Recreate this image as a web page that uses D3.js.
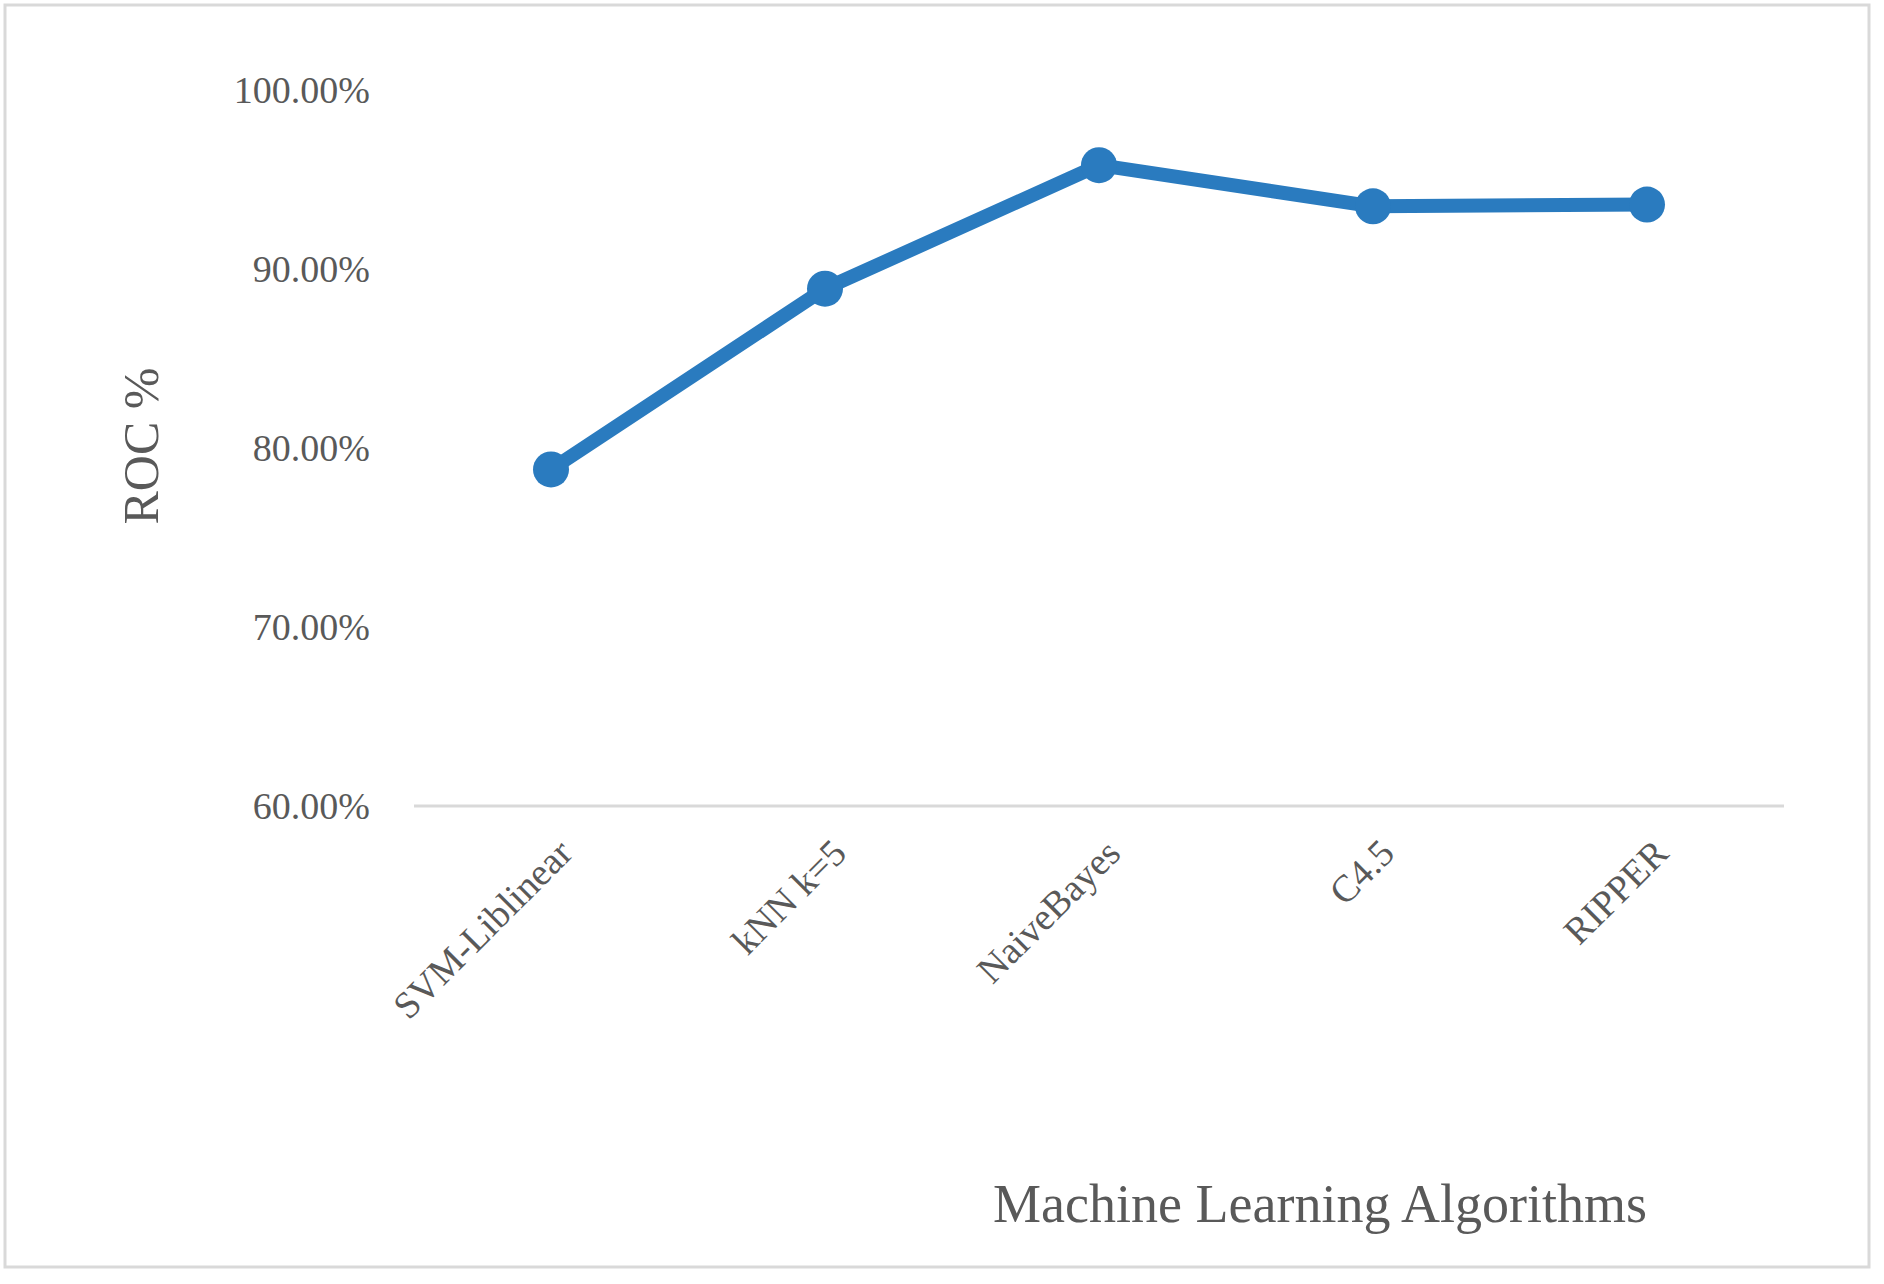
<!DOCTYPE html>
<html><head><meta charset="utf-8">
<script src="https://cdn.jsdelivr.net/npm/d3@7"></script>
<style>body{margin:0;background:#fff}</style></head>
<body><svg id="c" width="1884" height="1284"></svg>
<script>
const categories = ["SVM-Liblinear","kNN k=5","NaiveBayes","C4.5","RIPPER"];
const rocValues = [0.788, 0.889, 0.958, 0.935, 0.936];
const yTicks = [0.6,0.7,0.8,0.9,1.0];

const svg = d3.select("#c");
const font = "'Liberation Serif', serif";
svg.append("rect").attr("x",5).attr("y",5).attr("width",1864).attr("height",1262)
  .attr("fill","#fff").attr("stroke","#d9d9d9").attr("stroke-width",3);

const m = {l:414, r:1784, t:90, b:806};
const x = d3.scaleBand().domain(categories).range([m.l,m.r]);
const y = d3.scaleLinear().domain([0.6,1.0]).range([m.b,m.t]);

svg.append("line").attr("x1",m.l).attr("x2",m.r).attr("y1",y(0.6)).attr("y2",y(0.6))
  .attr("stroke","#d9d9d9").attr("stroke-width",3);

const fmt = d3.format(".2%");
svg.append("g").selectAll("text").data(yTicks).join("text")
  .attr("x",370).attr("y",d=>y(d)).attr("dy","0.35em").attr("text-anchor","end")
  .attr("font-family",font).attr("font-size",38).attr("fill","#595959").text(d=>fmt(d));

svg.append("g").selectAll("text").data(categories).join("text")
  .attr("transform",d=>`translate(${x(d)+x.bandwidth()/2+14},${y(0.6)+40}) rotate(-45)`)
  .attr("text-anchor","end").attr("dy","0.35em")
  .attr("font-family",font).attr("font-size",38).attr("fill","#595959").text(d=>d);

const line = d3.line().x((d,i)=>x(categories[i])+x.bandwidth()/2).y(d=>y(d));
svg.append("path").datum(rocValues).attr("d",line).attr("fill","none")
  .attr("stroke","#2a7bbf").attr("stroke-width",14).attr("stroke-linejoin","round");
svg.append("g").selectAll("circle").data(rocValues).join("circle")
  .attr("cx",(d,i)=>x(categories[i])+x.bandwidth()/2).attr("cy",d=>y(d)).attr("r",18)
  .attr("fill","#2a7bbf");

svg.append("text").attr("transform","translate(158,446) rotate(-90)").attr("text-anchor","middle")
  .attr("font-family",font).attr("font-size",50).attr("fill","#595959").text("ROC %");
svg.append("text").attr("x",1320).attr("y",1222).attr("text-anchor","middle")
  .attr("font-family",font).attr("font-size",54).attr("fill","#595959").text("Machine Learning Algorithms");
</script></body></html>
